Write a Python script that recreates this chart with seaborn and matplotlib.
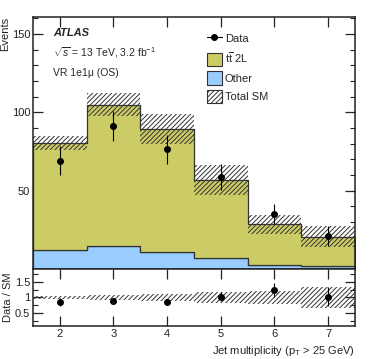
import numpy as np
import pandas as pd
import matplotlib
matplotlib.use('Agg')
import matplotlib.pyplot as plt
import seaborn as sns
from matplotlib.patches import Patch
from matplotlib.lines import Line2D
from matplotlib.ticker import MultipleLocator, FixedLocator

# values
njets = [2, 3, 4, 5, 6, 7]
bin_edges = [1.5, 2.5, 3.5, 4.5, 5.5, 6.5, 7.5]
ttbar = [68.4, 90.2, 78.2, 49.7, 25.6, 18.6]
other = [12.0, 14.7, 11.1, 7.1, 2.8, 1.9]
total_err = [4.3, 7.4, 9.6, 9.4, 6.2, 6.6]
data = [69.2, 91.5, 76.5, 58.4, 35.0, 21.0]
data_err = [9.3, 9.5, 9.2, 8.3, 6.4, 6.3]

tt_col = '#cccc66'
oth_col = '#99ccff'
hatch_col = '#333333'

sns.set_style('ticks')
plt.rcParams['font.family'] = ['Liberation Sans', 'DejaVu Sans']
plt.rcParams['mathtext.fontset'] = 'custom'
plt.rcParams['mathtext.rm'] = 'Liberation Sans'
plt.rcParams['mathtext.it'] = 'Liberation Sans:italic'
plt.rcParams['hatch.linewidth'] = 0.7
plt.rcParams['font.size'] = 8
plt.rcParams['axes.edgecolor'] = '#222222'
plt.rcParams['axes.linewidth'] = 1.1
plt.rcParams['xtick.color'] = '#222222'
plt.rcParams['ytick.color'] = '#222222'

total = np.array(ttbar) + np.array(other)
terr = np.array(total_err)

df = pd.DataFrame({
    'njets': njets * 2,
    'events': ttbar + other,
    'process': ['ttbar'] * len(njets) + ['other'] * len(njets),
})

fig = plt.figure(figsize=(3.74, 3.59), dpi=100)
ax = fig.add_axes([0.088, 0.251, 0.861, 0.702])
rax = fig.add_axes([0.088, 0.092, 0.861, 0.159], sharex=ax)

sns.histplot(data=df, x='njets', weights='events', hue='process',
             hue_order=['ttbar', 'other'], bins=bin_edges, multiple='stack',
             element='step', palette={'ttbar': tt_col, 'other': oth_col},
             alpha=1, edgecolor='#333333', linewidth=0.9, legend=False, ax=ax)

ax.bar(njets, 2 * terr, bottom=total - terr, width=1.0, fill=False,
       hatch='///////', edgecolor=hatch_col, linewidth=0)
ax.errorbar(njets, data, yerr=data_err, fmt='o', color='black', ms=4,
            elinewidth=0.8, capsize=0, zorder=5)

ax.set_xlim(1.5, 7.5)
ax.set_ylim(0, 161)
ax.set_yticks([50, 100, 150])
ax.yaxis.set_minor_locator(MultipleLocator(10))
ax.set_xlabel('')
ax.set_ylabel('Events', loc='top', fontsize=8, labelpad=1)
ax.tick_params(labelbottom=False)

for a in (ax, rax):
    a.tick_params(which='both', direction='in', top=True, right=True,
                  labelsize=8, pad=2)
    a.tick_params(which='major', length=7, width=0.9)
    a.tick_params(which='minor', length=3.5, width=0.8)
    a.xaxis.set_major_locator(FixedLocator(njets))

ax.text(0.062, 0.937, 'ATLAS', transform=ax.transAxes, fontsize=8,
        weight='bold', style='italic', va='center')
ax.text(0.062, 0.857, r'$\sqrt{s}$ = 13 TeV, 3.2 fb$^{-1}$', transform=ax.transAxes,
        fontsize=7.5, va='center')
ax.text(0.062, 0.778, 'VR 1e1\u03bc (OS)', transform=ax.transAxes,
        fontsize=7.5, va='center')

handles = [
    Line2D([], [], color='black', marker='o', ms=4, lw=0.8),
    Patch(facecolor=tt_col, edgecolor='#333333', linewidth=0.8),
    Patch(facecolor=oth_col, edgecolor='#333333', linewidth=0.8),
    Patch(facecolor='white', edgecolor=hatch_col, hatch='///////', linewidth=0.8),
]
labels = ['Data', r'$\mathrm{t\overline{t}}$ 2L', 'Other', 'Total SM']
ax.legend(handles, labels, loc='upper left', bbox_to_anchor=(0.51, 0.98),
          frameon=False, fontsize=8, handlelength=1.3, handleheight=1.5,
          handletextpad=0.3, labelspacing=0.45)

# ratio panel
rel = terr / total
ratio = np.array(data) / total
ratio_err = np.array(data_err) / total
rax.bar(njets, 2 * rel, bottom=1 - rel, width=1.0, fill=False,
        hatch='///////', edgecolor=hatch_col, linewidth=0)
rax.errorbar(njets, ratio, yerr=ratio_err, fmt='o', color='black', ms=4,
             elinewidth=0.8, capsize=0, zorder=5)
rax.set_ylim(0.1, 1.9)
rax.set_yticks([0.5, 1, 1.5])
rax.set_yticklabels(['0.5', '1', '1.5'])
rax.yaxis.set_minor_locator(MultipleLocator(0.25))
rax.set_ylabel('Data / SM', fontsize=8, labelpad=1)
rax.set_xlabel(r'Jet multiplicity ($\mathrm{p_T}$ > 25 GeV)', loc='right', fontsize=8)

fig.savefig('out.png', dpi=100)
